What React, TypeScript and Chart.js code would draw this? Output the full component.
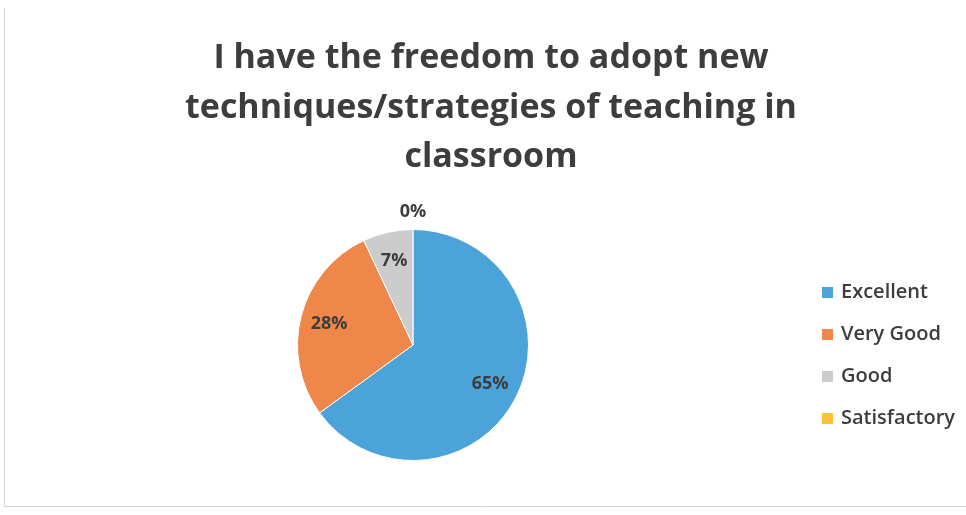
import React, { useEffect, useRef } from "react";
import { Chart, registerables } from "chart.js";

Chart.register(...registerables);

const titleLines = [
  "I have the freedom to adopt new",
  "techniques/strategies of teaching in",
  "classroom",
];
const categories = ["Excellent", "Very Good", "Good", "Satisfactory"];
const values = [65, 28, 7, 0];
const colors = ["#4BA3DA", "#F0874A", "#CCCCCC", "#FFC13B"];

const TEXT = "#3d3d3d";

const framePlugin = {
  id: "frame",
  beforeDraw(chart: any) {
    const ctx = chart.ctx;
    ctx.save();
    ctx.fillStyle = "#ffffff";
    ctx.fillRect(0, 0, chart.width, chart.height);
    ctx.strokeStyle = "#d4d4d4";
    ctx.lineWidth = 1;
    ctx.beginPath();
    ctx.moveTo(4.5, 8);
    ctx.lineTo(4.5, 506.5);
    ctx.lineTo(966, 506.5);
    ctx.stroke();
    ctx.restore();
  },
};

const titlePlugin = {
  id: "customTitle",
  afterDraw(chart: any) {
    const ctx = chart.ctx;
    ctx.save();
    ctx.fillStyle = TEXT;
    ctx.font = "bold 34px 'Open Sans'";
    ctx.textAlign = "center";
    ctx.textBaseline = "middle";
    const ys = [58, 108, 157];
    titleLines.forEach((t, i) => ctx.fillText(t, 491, ys[i]));
    ctx.restore();
  },
};

const legendPlugin = {
  id: "customLegend",
  afterDraw(chart: any) {
    const ctx = chart.ctx;
    ctx.save();
    ctx.font = "600 20px 'Open Sans'";
    ctx.textBaseline = "middle";
    ctx.textAlign = "left";
    categories.forEach((c, i) => {
      const y = 292 + i * 42;
      ctx.fillStyle = colors[i];
      ctx.fillRect(822, y - 5, 11, 11);
      ctx.fillStyle = TEXT;
      ctx.fillText(c, 841, y);
    });
    ctx.restore();
  },
};

const labelPlugin = {
  id: "sliceLabels",
  afterDatasetsDraw(chart: any) {
    const ctx = chart.ctx;
    const meta = chart.getDatasetMeta(0);
    ctx.save();
    ctx.font = "bold 18px 'Open Sans'";
    ctx.fillStyle = TEXT;
    ctx.textAlign = "center";
    ctx.textBaseline = "middle";
    meta.data.forEach((arc: any, i: number) => {
      const p = arc.getProps(["x", "y", "startAngle", "endAngle", "outerRadius"], true);
      const mid = (p.startAngle + p.endAngle) / 2;
      const r = values[i] === 0 ? p.outerRadius * 1.15 : p.outerRadius * 0.75;
      ctx.fillText(values[i] + "%", p.x + Math.cos(mid) * r, p.y + Math.sin(mid) * r);
    });
    ctx.restore();
  },
};

export default function App() {
  const ref = useRef<HTMLCanvasElement>(null);
  useEffect(() => {
    if (!ref.current) return;
    const chart = new Chart(ref.current, {
      type: "pie",
      data: {
        labels: categories,
        datasets: [
          {
            data: values,
            backgroundColor: colors,
            borderColor: "#ffffff",
            borderWidth: 1,
          },
        ],
      },
      options: {
        responsive: false,
        animation: false,
        devicePixelRatio: 1,
        layout: { padding: { left: 297, right: 437, top: 229, bottom: 54 } },
        plugins: {
          legend: { display: false },
          title: { display: false },
          tooltip: { enabled: false },
        },
      },
      plugins: [framePlugin, titlePlugin, legendPlugin, labelPlugin],
    });
    return () => chart.destroy();
  }, []);
  return (
    <div style={{ position: "fixed", left: 0, top: 0, width: 966, height: 515, background: "#fff" }}>
      <canvas ref={ref} width={966} height={515} />
    </div>
  );
}
